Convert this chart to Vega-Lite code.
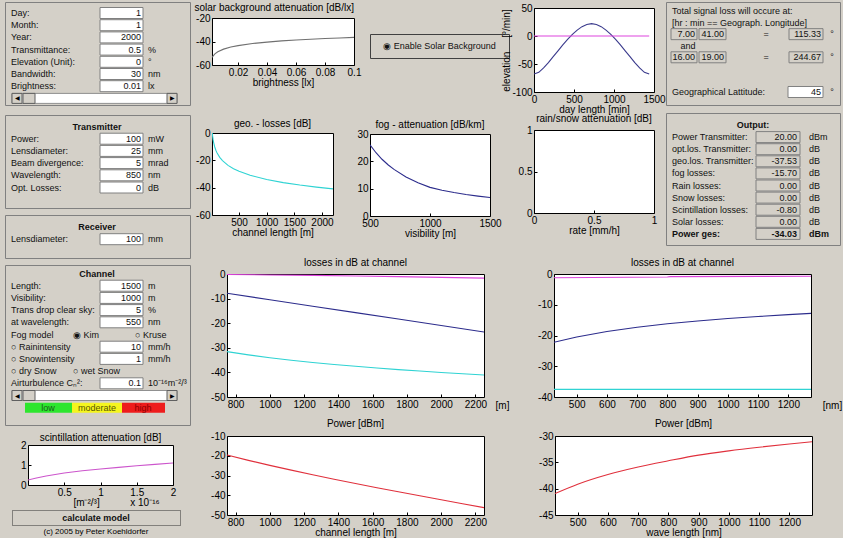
{
"$schema":"https://vega.github.io/schema/vega-lite/v6.json",
"background":"#d4d0c8",
"padding":{"left":4,"top":1,"right":0,"bottom":0},
"config":{
 "view":{"fill":"white","stroke":"black","strokeWidth":1},
 "numberFormat":".6~f",
 "locale":{"number":{"decimal":".","thousands":"","grouping":[3],"currency":["$",""],"minus":"-"}},
 "axis":{"domain":false,"grid":false,"labelFont":"Liberation Sans","labelFontSize":10,"labelColor":"black","labelFlush":false,"labelOverlap":false,"tickColor":"black","tickSize":-3,"labelPadding":5,"titleFont":"Liberation Sans","titleFontSize":10,"titleFontWeight":"normal","titleColor":"black","titlePadding":0},
 "title":{"font":"Liberation Sans","fontSize":10,"fontWeight":"normal","color":"black","offset":5,"frame":"group"},
 "line":{"strokeWidth":1.1},
 "text":{"font":"Liberation Sans","fontSize":9,"color":"#111111","baseline":"middle"}
},
"datasets":{
 "panel":[
  {"p":"P1","kind":"field","row":1,"label":"Day:","value":"1","unit":"","mid":"","right":""},
  {"p":"P1","kind":"field","row":2,"label":"Month:","value":"1","unit":"","mid":"","right":""},
  {"p":"P1","kind":"field","row":3,"label":"Year:","value":"2000","unit":"","mid":"","right":""},
  {"p":"P1","kind":"field","row":4,"label":"Transmittance:","value":"0.5","unit":"%","mid":"","right":""},
  {"p":"P1","kind":"field","row":5,"label":"Elevation (Unit):","value":"0","unit":"°","mid":"","right":""},
  {"p":"P1","kind":"field","row":6,"label":"Bandwidth:","value":"30","unit":"nm","mid":"","right":""},
  {"p":"P1","kind":"field","row":7,"label":"Brightness:","value":"0.01","unit":"lx","mid":"","right":""},
  {"p":"P1","kind":"slider","row":8,"label":"","value":"","unit":"","mid":"","right":""},
  {"p":"P2","kind":"title","row":0,"label":"Transmitter","value":"","unit":"","mid":"","right":""},
  {"p":"P2","kind":"field","row":1,"label":"Power:","value":"100","unit":"mW","mid":"","right":""},
  {"p":"P2","kind":"field","row":2,"label":"Lensdiameter:","value":"25","unit":"mm","mid":"","right":""},
  {"p":"P2","kind":"field","row":3,"label":"Beam divergence:","value":"5","unit":"mrad","mid":"","right":""},
  {"p":"P2","kind":"field","row":4,"label":"Wavelength:","value":"850","unit":"nm","mid":"","right":""},
  {"p":"P2","kind":"field","row":5,"label":"Opt. Losses:","value":"0","unit":"dB","mid":"","right":""},
  {"p":"P3","kind":"title","row":0,"label":"Receiver","value":"","unit":"","mid":"","right":""},
  {"p":"P3","kind":"field","row":1,"label":"Lensdiameter:","value":"100","unit":"mm","mid":"","right":""},
  {"p":"P4","kind":"title","row":0,"label":"Channel","value":"","unit":"","mid":"","right":""},
  {"p":"P4","kind":"field","row":1,"label":"Length:","value":"1500","unit":"m","mid":"","right":""},
  {"p":"P4","kind":"field","row":2,"label":"Visibility:","value":"1000","unit":"m","mid":"","right":""},
  {"p":"P4","kind":"field","row":3,"label":"Trans drop clear sky:","value":"5","unit":"%","mid":"","right":""},
  {"p":"P4","kind":"field","row":4,"label":"at wavelength:","value":"550","unit":"nm","mid":"","right":""},
  {"p":"P4","kind":"field","row":5,"label":"Fog model","value":"","unit":"","mid":"◉ Kim","right":"○ Kruse"},
  {"p":"P4","kind":"field","row":6,"label":"○ Rainintensity","value":"10","unit":"mm/h","mid":"","right":""},
  {"p":"P4","kind":"field","row":7,"label":"○ Snowintensity","value":"1","unit":"mm/h","mid":"","right":""},
  {"p":"P4","kind":"field","row":8,"label":"○ dry Snow","value":"","unit":"","mid":"○ wet Snow","right":""},
  {"p":"P4","kind":"field","row":9,"label":"Airturbulence Cₙ²:","value":"0.1","unit":"10⁻¹⁶m⁻²/³","mid":"","right":""},
  {"p":"P4","kind":"slider","row":10,"label":"","value":"","unit":"","mid":"","right":""},
  {"p":"P4","kind":"scale","row":11,"label":"","value":"","unit":"","mid":"","right":""},
  {"p":"OUT","kind":"title","row":0,"label":"Output:","value":"","unit":"","mid":"","right":""},
  {"p":"OUT","kind":"field","row":1,"label":"Power Transmitter:","value":"20.00","unit":"dBm","mid":"","right":""},
  {"p":"OUT","kind":"field","row":2,"label":"opt.los. Transmitter:","value":"0.00","unit":"dB","mid":"","right":""},
  {"p":"OUT","kind":"field","row":3,"label":"geo.los. Transmitter:","value":"-37.53","unit":"dB","mid":"","right":""},
  {"p":"OUT","kind":"field","row":4,"label":"fog losses:","value":"-15.70","unit":"dB","mid":"","right":""},
  {"p":"OUT","kind":"field","row":5,"label":"Rain losses:","value":"0.00","unit":"dB","mid":"","right":""},
  {"p":"OUT","kind":"field","row":6,"label":"Snow losses:","value":"0.00","unit":"dB","mid":"","right":""},
  {"p":"OUT","kind":"field","row":7,"label":"Scintillation losses:","value":"-0.80","unit":"dB","mid":"","right":""},
  {"p":"OUT","kind":"field","row":8,"label":"Solar losses:","value":"0.00","unit":"dB","mid":"","right":""},
  {"p":"OUT","kind":"total","row":9,"label":"Power ges:","value":"-34.03","unit":"dBm","mid":"","right":""}
 ],
 "tr":[
  {"row":3,"h":"7.00","m":"41.00","lon":"115.33"},
  {"row":5,"h":"16.00","m":"19.00","lon":"244.67"}
 ]
},
"hconcat":[
 {"vconcat":[
  {"vconcat":[
   {"width":185,"height":103,"view":{"fill":null,"stroke":"#808080"},
    "encoding":{"y":{"field":"row","type":"quantitative","scale":{"domain":[0.098,8.541],"reverse":true,"nice":false,"zero":false,"padding":0},"axis":null},"x":{"datum":6,"type":"quantitative","scale":{"domain":[0,185],"nice":false,"zero":false,"padding":0},"axis":null}},
    "data":{"name":"panel"},"transform":[{"filter":"datum.p==='P1'"}],
    "layer":[
     {"transform":[{"filter":"datum.kind==='field'"}],"mark":{"type":"bar","orient":"horizontal","size":11,"fill":"white","stroke":"#808080"},"encoding":{"x":{"datum":95},"x2":{"datum":138}}},
     {"transform":[{"filter":"datum.kind==='field'"}],"mark":{"type":"text","align":"left"},"encoding":{"text":{"field":"label"}}},
     {"transform":[{"filter":"datum.kind==='field'"}],"mark":{"type":"text","align":"right"},"encoding":{"x":{"datum":136},"text":{"field":"value"}}},
     {"transform":[{"filter":"datum.kind==='field'"}],"mark":{"type":"text","align":"left"},"encoding":{"x":{"datum":143},"text":{"field":"unit"}}},
     {"transform":[{"filter":"datum.kind==='slider'"}],"layer":[
      {"mark":{"type":"bar","orient":"horizontal","size":10,"fill":"white","stroke":"#909090"},"encoding":{"x":{"datum":7},"x2":{"datum":172}}},
      {"mark":{"type":"bar","orient":"horizontal","size":10,"fill":"#d4d0c8","stroke":"#606060"},"encoding":{"x":{"datum":7},"x2":{"datum":17}}},
      {"mark":{"type":"bar","orient":"horizontal","size":10,"fill":"#d4d0c8","stroke":"#606060"},"encoding":{"x":{"datum":18},"x2":{"datum":30}}},
      {"mark":{"type":"bar","orient":"horizontal","size":10,"fill":"#d4d0c8","stroke":"#606060"},"encoding":{"x":{"datum":162},"x2":{"datum":172}}},
      {"mark":{"type":"text","fontSize":6,"color":"black"},"encoding":{"x":{"datum":12},"text":{"value":"◀"}}},
      {"mark":{"type":"text","fontSize":6,"color":"black"},"encoding":{"x":{"datum":167},"text":{"value":"▶"}}}
     ]}
    ]},
   {"vconcat":[
    {"width":185,"height":93,"view":{"fill":null,"stroke":"#808080"},
     "encoding":{"y":{"field":"row","type":"quantitative","scale":{"domain":[-0.943,6.68],"reverse":true,"nice":false,"zero":false,"padding":0},"axis":null},"x":{"datum":6,"type":"quantitative","scale":{"domain":[0,185],"nice":false,"zero":false,"padding":0},"axis":null}},
     "data":{"name":"panel"},"transform":[{"filter":"datum.p==='P2'"}],
     "layer":[
      {"transform":[{"filter":"datum.kind==='field'"}],"mark":{"type":"bar","orient":"horizontal","size":11,"fill":"white","stroke":"#808080"},"encoding":{"x":{"datum":95},"x2":{"datum":138}}},
      {"transform":[{"filter":"datum.kind==='field'"}],"mark":{"type":"text","align":"left"},"encoding":{"text":{"field":"label"}}},
      {"transform":[{"filter":"datum.kind==='field'"}],"mark":{"type":"text","align":"right"},"encoding":{"x":{"datum":136},"text":{"field":"value"}}},
      {"transform":[{"filter":"datum.kind==='field'"}],"mark":{"type":"text","align":"left"},"encoding":{"x":{"datum":143},"text":{"field":"unit"}}},
      {"transform":[{"filter":"datum.kind==='title'"}],"mark":{"type":"text","fontWeight":"bold"},"encoding":{"x":{"datum":92},"text":{"field":"label"}}}
     ]},
    {"width":185,"height":43,"view":{"fill":null,"stroke":"#808080"},
     "encoding":{"y":{"field":"row","type":"quantitative","scale":{"domain":[-0.984,2.541],"reverse":true,"nice":false,"zero":false,"padding":0},"axis":null},"x":{"datum":6,"type":"quantitative","scale":{"domain":[0,185],"nice":false,"zero":false,"padding":0},"axis":null}},
     "data":{"name":"panel"},"transform":[{"filter":"datum.p==='P3'"}],
     "layer":[
      {"transform":[{"filter":"datum.kind==='field'"}],"mark":{"type":"bar","orient":"horizontal","size":11,"fill":"white","stroke":"#808080"},"encoding":{"x":{"datum":95},"x2":{"datum":138}}},
      {"transform":[{"filter":"datum.kind==='field'"}],"mark":{"type":"text","align":"left"},"encoding":{"text":{"field":"label"}}},
      {"transform":[{"filter":"datum.kind==='field'"}],"mark":{"type":"text","align":"right"},"encoding":{"x":{"datum":136},"text":{"field":"value"}}},
      {"transform":[{"filter":"datum.kind==='field'"}],"mark":{"type":"text","align":"left"},"encoding":{"x":{"datum":143},"text":{"field":"unit"}}},
      {"transform":[{"filter":"datum.kind==='title'"}],"mark":{"type":"text","fontWeight":"bold"},"encoding":{"x":{"datum":92},"text":{"field":"label"}}}
     ]},
    {"width":185,"height":160,"view":{"fill":null,"stroke":"#808080"},
     "encoding":{"y":{"field":"row","type":"quantitative","scale":{"domain":[-0.697,12.418],"reverse":true,"nice":false,"zero":false,"padding":0},"axis":null},"x":{"datum":6,"type":"quantitative","scale":{"domain":[0,185],"nice":false,"zero":false,"padding":0},"axis":null}},
     "data":{"name":"panel"},"transform":[{"filter":"datum.p==='P4'"}],
     "layer":[
      {"transform":[{"filter":"datum.kind==='field' && datum.value!==''"}],"mark":{"type":"bar","orient":"horizontal","size":11,"fill":"white","stroke":"#808080"},"encoding":{"x":{"datum":95},"x2":{"datum":138}}},
      {"transform":[{"filter":"datum.kind==='field'"}],"mark":{"type":"text","align":"left"},"encoding":{"text":{"field":"label"}}},
      {"transform":[{"filter":"datum.kind==='field'"}],"mark":{"type":"text","align":"right"},"encoding":{"x":{"datum":136},"text":{"field":"value"}}},
      {"transform":[{"filter":"datum.kind==='field'"}],"mark":{"type":"text","align":"left"},"encoding":{"x":{"datum":143},"text":{"field":"unit"}}},
      {"transform":[{"filter":"datum.kind==='field'"}],"mark":{"type":"text","align":"left"},"encoding":{"x":{"datum":68},"text":{"field":"mid"}}},
      {"transform":[{"filter":"datum.kind==='field'"}],"mark":{"type":"text","align":"left"},"encoding":{"x":{"datum":130},"text":{"field":"right"}}},
      {"transform":[{"filter":"datum.kind==='title'"}],"mark":{"type":"text","fontWeight":"bold"},"encoding":{"x":{"datum":92},"text":{"field":"label"}}},
      {"transform":[{"filter":"datum.kind==='slider'"}],"layer":[
       {"mark":{"type":"bar","orient":"horizontal","size":10,"fill":"white","stroke":"#909090"},"encoding":{"x":{"datum":7},"x2":{"datum":172}}},
       {"mark":{"type":"bar","orient":"horizontal","size":10,"fill":"#d4d0c8","stroke":"#606060"},"encoding":{"x":{"datum":7},"x2":{"datum":17}}},
       {"mark":{"type":"bar","orient":"horizontal","size":10,"fill":"#d4d0c8","stroke":"#606060"},"encoding":{"x":{"datum":18},"x2":{"datum":30}}},
       {"mark":{"type":"bar","orient":"horizontal","size":10,"fill":"#d4d0c8","stroke":"#606060"},"encoding":{"x":{"datum":162},"x2":{"datum":172}}},
       {"mark":{"type":"text","fontSize":6,"color":"black"},"encoding":{"x":{"datum":12},"text":{"value":"◀"}}},
       {"mark":{"type":"text","fontSize":6,"color":"black"},"encoding":{"x":{"datum":167},"text":{"value":"▶"}}}
      ]},
      {"transform":[{"filter":"datum.kind==='scale'"}],"layer":[
       {"mark":{"type":"bar","orient":"horizontal","size":10,"fill":"#2ee62e"},"encoding":{"x":{"datum":20},"x2":{"datum":67}}},
       {"mark":{"type":"bar","orient":"horizontal","size":10,"fill":"#f5f51e"},"encoding":{"x":{"datum":67},"x2":{"datum":117}}},
       {"mark":{"type":"bar","orient":"horizontal","size":10,"fill":"#ee1c1c"},"encoding":{"x":{"datum":117},"x2":{"datum":160}}},
       {"mark":{"type":"text","color":"#1a5a1a"},"encoding":{"x":{"datum":43},"text":{"value":"low"}}},
       {"mark":{"type":"text","color":"#555500"},"encoding":{"x":{"datum":92},"text":{"value":"moderate"}}},
       {"mark":{"type":"text","color":"#8a0000"},"encoding":{"x":{"datum":138},"text":{"value":"high"}}}
      ]}
     ]}
   ],"spacing":5}
  ],"spacing":8},
  {"vconcat":[
   {"hconcat":[
    {"width":1,"height":1,"view":{"fill":null,"stroke":null},"data":{"values":[]},"mark":"text","encoding":{"text":{"value":""}}},
    {"width":145,"height":40,"title":{"text":"scintillation attenuation [dB]","offset":-3},
     "data":{"values":[{"c":0,"s":0.25},{"c":0.1,"s":0.34},{"c":0.25,"s":0.45},{"c":0.5,"s":0.6},{"c":0.75,"s":0.71},{"c":1,"s":0.8},{"c":1.25,"s":0.88},{"c":1.5,"s":0.96},{"c":1.75,"s":1.03},{"c":2,"s":1.1}]},
     "mark":{"type":"line","color":"#cc55cc","clip":true},
     "encoding":{"x":{"field":"c","type":"quantitative","scale":{"domain":[0,2],"nice":false,"zero":false},"axis":{"values":[0.5,1,1.5,2],"title":"[m⁻²/³]\u00a0\u00a0\u00a0\u00a0\u00a0\u00a0\u00a0\u00a0\u00a0\u00a0\u00a0x 10⁻¹⁶","titleX":88}},
      "y":{"field":"s","type":"quantitative","scale":{"domain":[0,2],"nice":false,"zero":false},"axis":{"values":[0,1,2],"title":null}}}}
   ],"spacing":13},
   {"hconcat":[
    {"width":1,"height":1,"view":{"fill":null,"stroke":null},"data":{"values":[]},"mark":"text","encoding":{"text":{"value":""}}},
    {"width":168,"height":15,"view":{"fill":"#d4d0c8","stroke":"#303030","strokeDash":[1,1]},
     "title":{"text":"(c) 2005 by Peter Koehldorfer","orient":"bottom","offset":3,"fontSize":8},
     "data":{"values":[{"t":"calculate model"}]},
     "mark":{"type":"text","fontWeight":"bold","fontSize":9},
     "encoding":{"text":{"field":"t"}}}
   ],"spacing":5}
  ],"spacing":1}
 ],"spacing":6},
 {"vconcat":[
  {"vconcat":[
   {"hconcat":[
    {"hconcat":[
     {"vconcat":[
      {"vconcat":[
       {"width":1,"height":1,"view":{"fill":null,"stroke":null},"data":{"values":[]},"mark":"text","encoding":{"text":{"value":""}}},
       {"width":142,"height":47,"title":{"text":"solar background attenuation [dB/lx]","anchor":"end","offset":0},
        "data":{"values":[{"b":0.002,"a":-53.5},{"b":0.004,"a":-50.5},{"b":0.006,"a":-48.7},{"b":0.01,"a":-46.5},{"b":0.015,"a":-44.7},{"b":0.02,"a":-43.5},{"b":0.03,"a":-41.7},{"b":0.04,"a":-40.5},{"b":0.05,"a":-39.5},{"b":0.06,"a":-38.7},{"b":0.07,"a":-38.05},{"b":0.08,"a":-37.5},{"b":0.09,"a":-36.96},{"b":0.1,"a":-36.5}]},
        "mark":{"type":"line","color":"#707070","clip":true},
        "encoding":{"x":{"field":"b","type":"quantitative","scale":{"domain":[0.002,0.1],"nice":false,"zero":false},"axis":{"values":[0.02,0.04,0.06,0.08,0.1],"title":"brightness [lx]"}},
         "y":{"field":"a","type":"quantitative","scale":{"domain":[-60,-20],"nice":false,"zero":false},"axis":{"values":[-60,-40,-20],"title":null}}}}
      ],"spacing":-1},
      {"width":121,"height":82,"title":{"text":"geo. - losses [dB]","offset":-1},
       "data":{"values":[{"L":15,"g":0},{"L":20,"g":-1.94},{"L":30,"g":-4.86},{"L":40,"g":-7.04},{"L":60,"g":-10.24},{"L":80,"g":-12.57},{"L":100,"g":-14.4},{"L":150,"g":-17.79},{"L":200,"g":-20.21},{"L":300,"g":-23.67},{"L":400,"g":-26.13},{"L":500,"g":-28.04},{"L":700,"g":-30.94},{"L":1000,"g":-34.02},{"L":1300,"g":-36.29},{"L":1600,"g":-38.09},{"L":1900,"g":-39.58},{"L":2200,"g":-40.85}]},
       "mark":{"type":"line","color":"#2fd3d3","clip":true},
       "encoding":{"x":{"field":"L","type":"quantitative","scale":{"domain":[10,2200],"nice":false,"zero":false},"axis":{"values":[500,1000,1500,2000],"title":"channel length [m]"}},
        "y":{"field":"g","type":"quantitative","scale":{"domain":[-60,0],"nice":false,"zero":false},"axis":{"values":[-60,-40,-20,0],"title":null}}}}
     ],"spacing":30},
     {"vconcat":[
      {"vconcat":[
       {"width":1,"height":1,"view":{"fill":null,"stroke":null},"data":{"values":[]},"mark":"text","encoding":{"text":{"value":""}}},
       {"width":139,"height":24,"view":{"fill":null,"stroke":"#404040"},
        "data":{"values":[{"t":"◉  Enable Solar Background"}]},
        "mark":{"type":"text","fontSize":9},
        "encoding":{"text":{"field":"t"}}}
      ],"spacing":30},
      {"width":120,"height":82,"title":{"text":"fog - attenuation [dB/km]","offset":-1},
       "data":{"values":[{"v":500,"f":26.02},{"v":550,"f":23.15},{"v":600,"f":20.76},{"v":650,"f":18.75},{"v":700,"f":17.04},{"v":800,"f":14.27},{"v":900,"f":12.15},{"v":1000,"f":10.47},{"v":1100,"f":9.45},{"v":1200,"f":8.6},{"v":1300,"f":7.88},{"v":1400,"f":7.27},{"v":1500,"f":6.74}]},
       "mark":{"type":"line","color":"#2c2c8c","clip":true},
       "encoding":{"x":{"field":"v","type":"quantitative","scale":{"domain":[500,1500],"nice":false,"zero":false},"axis":{"values":[500,1000,1500],"title":"visibility [m]"}},
        "y":{"field":"f","type":"quantitative","scale":{"domain":[0,30],"nice":false,"zero":false},"axis":{"values":[0,10,20,30],"title":null}}}}
     ],"spacing":60}
    ],"spacing":-6},
    {"hconcat":[
     {"vconcat":[
      {"vconcat":[
       {"width":1,"height":1,"view":{"fill":null,"stroke":null},"data":{"values":[]},"mark":"text","encoding":{"text":{"value":""}}},
       {"width":120,"height":84,
        "data":{"values":[{"t":0,"e":-68,"s":"sun"},{"t":60,"e":-64.8,"s":"sun"},{"t":120,"e":-57.1,"s":"sun"},{"t":180,"e":-47.4,"s":"sun"},{"t":240,"e":-37,"s":"sun"},{"t":300,"e":-26.4,"s":"sun"},{"t":360,"e":-16,"s":"sun"},{"t":420,"e":-6.2,"s":"sun"},{"t":480,"e":2.8,"s":"sun"},{"t":540,"e":10.6,"s":"sun"},{"t":600,"e":16.7,"s":"sun"},{"t":660,"e":20.6,"s":"sun"},{"t":720,"e":22,"s":"sun"},{"t":780,"e":20.6,"s":"sun"},{"t":840,"e":16.7,"s":"sun"},{"t":900,"e":10.6,"s":"sun"},{"t":960,"e":2.8,"s":"sun"},{"t":1020,"e":-6.2,"s":"sun"},{"t":1080,"e":-16,"s":"sun"},{"t":1140,"e":-26.4,"s":"sun"},{"t":1200,"e":-37,"s":"sun"},{"t":1260,"e":-47.4,"s":"sun"},{"t":1320,"e":-57.1,"s":"sun"},{"t":1380,"e":-64.8,"s":"sun"},{"t":1440,"e":-68,"s":"sun"},{"t":0,"e":0,"s":"horizon"},{"t":1440,"e":0,"s":"horizon"}]},
        "mark":{"type":"line","clip":true},
        "encoding":{"x":{"field":"t","type":"quantitative","scale":{"domain":[0,1500],"nice":false,"zero":false},"axis":{"values":[0,500,1000,1500],"title":"day length [min]"}},
         "y":{"field":"e","type":"quantitative","scale":{"domain":[-100,50],"nice":false,"zero":false},"axis":{"values":[-100,-50,0,50],"title":"elevation\u00a0\u00a0\u00a0\u00a0\u00a0[°/min]"}},
         "color":{"field":"s","type":"nominal","scale":{"domain":["scint","fog","geo","sun","horizon"],"range":["#dd44dd","#2c2c8c","#2fd3d3","#3a3a8c","#dd44dd"]},"legend":null}}}
      ],"spacing":-1},
      {"width":120,"height":83,"title":{"text":"rain/snow attenuation [dB]","offset":1},
       "data":{"values":[{"x":0,"y":0}]},
       "mark":{"type":"point","opacity":0},
       "encoding":{"x":{"field":"x","type":"quantitative","scale":{"domain":[0,1],"nice":false,"zero":false},"axis":{"values":[0,0.5,1],"title":"rate [mm/h]"}},
        "y":{"field":"y","type":"quantitative","scale":{"domain":[0,1],"nice":false,"zero":false},"axis":{"values":[0,0.5,1],"title":null}}}}
     ],"spacing":-2},
     {"vconcat":[
      {"width":174,"height":103,"view":{"fill":null,"stroke":"#808080"},
       "encoding":{"y":{"field":"row","type":"quantitative","scale":{"domain":[0.222,9.124],"reverse":true,"nice":false,"zero":false,"padding":0},"axis":null},"x":{"datum":6,"type":"quantitative","scale":{"domain":[0,174],"nice":false,"zero":false,"padding":0},"axis":null}},
       "layer":[
        {"data":{"values":[{"row":1,"t":"Total signal loss will occure at:"},{"row":2,"t":"[hr : min ==  Geograph. Longitude]"},{"row":8,"t":"Geographical Lattitude:"}]},"mark":{"type":"text","align":"left"},"encoding":{"text":{"field":"t"}}},
        {"data":{"values":[{"row":4,"t":"and"}]},"mark":{"type":"text"},"encoding":{"x":{"datum":22},"text":{"field":"t"}}},
        {"data":{"name":"tr"},"layer":[
         {"mark":{"type":"bar","orient":"horizontal","size":11,"fill":"#d4d0c8","stroke":"#808080"},"encoding":{"x":{"datum":5},"x2":{"datum":31}}},
         {"mark":{"type":"bar","orient":"horizontal","size":11,"fill":"#d4d0c8","stroke":"#808080"},"encoding":{"x":{"datum":33},"x2":{"datum":60}}},
         {"mark":{"type":"bar","orient":"horizontal","size":11,"fill":"#d4d0c8","stroke":"#808080"},"encoding":{"x":{"datum":123},"x2":{"datum":157}}},
         {"mark":{"type":"text","align":"right"},"encoding":{"x":{"datum":29},"text":{"field":"h"}}},
         {"mark":{"type":"text","align":"right"},"encoding":{"x":{"datum":58},"text":{"field":"m"}}},
         {"mark":{"type":"text","align":"right"},"encoding":{"x":{"datum":155},"text":{"field":"lon"}}},
         {"mark":{"type":"text"},"encoding":{"x":{"datum":100},"text":{"value":"="}}},
         {"mark":{"type":"text"},"encoding":{"x":{"datum":166},"text":{"value":"°"}}}
        ]},
        {"data":{"values":[{"row":8,"v":"45"}]},"layer":[
         {"mark":{"type":"bar","orient":"horizontal","size":11,"fill":"white","stroke":"#808080"},"encoding":{"x":{"datum":122},"x2":{"datum":157}}},
         {"mark":{"type":"text","align":"right"},"encoding":{"x":{"datum":155},"text":{"field":"v"}}},
         {"mark":{"type":"text"},"encoding":{"x":{"datum":166},"text":{"value":"°"}}}
        ]}
       ]},
      {"width":174,"height":132,"view":{"fill":null,"stroke":"#808080"},
       "encoding":{"y":{"field":"row","type":"quantitative","scale":{"domain":[-0.992,9.917],"reverse":true,"nice":false,"zero":false,"padding":0},"axis":null},"x":{"datum":6,"type":"quantitative","scale":{"domain":[0,174],"nice":false,"zero":false,"padding":0},"axis":null}},
       "data":{"name":"panel"},"transform":[{"filter":"datum.p==='OUT'"}],
       "layer":[
        {"transform":[{"filter":"datum.kind==='field' || datum.kind==='total'"}],"mark":{"type":"bar","orient":"horizontal","size":11,"fill":"#d4d0c8","stroke":"#808080"},"encoding":{"x":{"datum":90},"x2":{"datum":134}}},
        {"transform":[{"filter":"datum.kind==='field'"}],"mark":{"type":"text","align":"left"},"encoding":{"text":{"field":"label"}}},
        {"transform":[{"filter":"datum.kind==='field'"}],"mark":{"type":"text","align":"right"},"encoding":{"x":{"datum":131},"text":{"field":"value"}}},
        {"transform":[{"filter":"datum.kind==='field'"}],"mark":{"type":"text","align":"left"},"encoding":{"x":{"datum":143},"text":{"field":"unit"}}},
        {"transform":[{"filter":"datum.kind==='total'"}],"mark":{"type":"text","align":"left","fontWeight":"bold"},"encoding":{"text":{"field":"label"}}},
        {"transform":[{"filter":"datum.kind==='total'"}],"mark":{"type":"text","align":"right","fontWeight":"bold"},"encoding":{"x":{"datum":131},"text":{"field":"value"}}},
        {"transform":[{"filter":"datum.kind==='total'"}],"mark":{"type":"text","align":"left","fontWeight":"bold"},"encoding":{"x":{"datum":143},"text":{"field":"unit"}}},
        {"transform":[{"filter":"datum.kind==='title'"}],"mark":{"type":"text","fontWeight":"bold"},"encoding":{"x":{"datum":87},"text":{"field":"label"}}}
       ]}
     ],"spacing":6}
    ],"spacing":-1}
   ],"spacing":-9},
   {"hconcat":[
    {"width":1,"height":1,"view":{"fill":null,"stroke":null},"data":{"values":[]},"mark":"text","encoding":{"text":{"value":""}}},
    {"hconcat":[
     {"width":257,"height":123,"title":{"text":"losses in dB at channel","offset":1},
      "data":{"values":[
       {"L":750,"v":-0.23,"s":"scint"},{"L":1000,"v":-0.38,"s":"scint"},{"L":1250,"v":-0.57,"s":"scint"},{"L":1500,"v":-0.8,"s":"scint"},{"L":1750,"v":-1.06,"s":"scint"},{"L":2000,"v":-1.36,"s":"scint"},{"L":2250,"v":-1.68,"s":"scint"},
       {"L":750,"v":-7.85,"s":"fog"},{"L":1000,"v":-10.47,"s":"fog"},{"L":1250,"v":-13.09,"s":"fog"},{"L":1500,"v":-15.7,"s":"fog"},{"L":1750,"v":-18.32,"s":"fog"},{"L":2000,"v":-20.94,"s":"fog"},{"L":2250,"v":-23.56,"s":"fog"},
       {"L":750,"v":-31.54,"s":"geo"},{"L":875,"v":-32.87,"s":"geo"},{"L":1000,"v":-34.02,"s":"geo"},{"L":1125,"v":-35.04,"s":"geo"},{"L":1250,"v":-35.95,"s":"geo"},{"L":1375,"v":-36.78,"s":"geo"},{"L":1500,"v":-37.53,"s":"geo"},{"L":1625,"v":-38.22,"s":"geo"},{"L":1750,"v":-38.86,"s":"geo"},{"L":1875,"v":-39.46,"s":"geo"},{"L":2000,"v":-40.02,"s":"geo"},{"L":2125,"v":-40.55,"s":"geo"},{"L":2250,"v":-41.04,"s":"geo"}]},
      "mark":{"type":"line","clip":true},
      "encoding":{"x":{"field":"L","type":"quantitative","scale":{"domain":[750,2250],"nice":false,"zero":false},"axis":{"values":[800,1000,1200,1400,1600,1800,2000,2200],"title":"[m]","titleX":275,"titleY":3,"titleBaseline":"top"}},
       "y":{"field":"v","type":"quantitative","scale":{"domain":[-50,0],"nice":false,"zero":false},"axis":{"values":[0,-10,-20,-30,-40,-50],"title":null}},
       "color":{"field":"s","type":"nominal","scale":{"domain":["scint","fog","geo","sun","horizon"],"range":["#dd44dd","#2c2c8c","#2fd3d3","#3a3a8c","#dd44dd"]},"legend":null}}},
     {"width":257,"height":123,"title":{"text":"losses in dB at channel","offset":1},
      "data":{"values":[
       {"w":425,"v":-1.2,"s":"scint"},{"w":800,"v":-1.0,"s":"scint"},{"w":810,"v":-0.85,"s":"scint"},{"w":1275,"v":-0.75,"s":"scint"},
       {"w":425,"v":-22.2,"s":"fog"},{"w":500,"v":-20.47,"s":"fog"},{"w":600,"v":-18.68,"s":"fog"},{"w":700,"v":-17.3,"s":"fog"},{"w":800,"v":-16.18,"s":"fog"},{"w":900,"v":-15.26,"s":"fog"},{"w":1000,"v":-14.47,"s":"fog"},{"w":1100,"v":-13.8,"s":"fog"},{"w":1200,"v":-13.21,"s":"fog"},{"w":1275,"v":-12.82,"s":"fog"},
       {"w":425,"v":-37.53,"s":"geo"},{"w":1275,"v":-37.53,"s":"geo"}]},
      "mark":{"type":"line","clip":true},
      "encoding":{"x":{"field":"w","type":"quantitative","scale":{"domain":[425,1275],"nice":false,"zero":false},"axis":{"values":[500,600,700,800,900,1000,1100,1200],"title":"[nm]","titleX":278,"titleY":3,"titleBaseline":"top"}},
       "y":{"field":"v","type":"quantitative","scale":{"domain":[-40,0],"nice":false,"zero":false},"axis":{"values":[0,-10,-20,-30,-40],"title":null}},
       "color":{"field":"s","type":"nominal","scale":{"domain":["scint","fog","geo","sun","horizon"],"range":["#dd44dd","#2c2c8c","#2fd3d3","#3a3a8c","#dd44dd"]},"legend":null}}}
    ],"spacing":27}
   ],"spacing":-3}
  ],"spacing":11},
  {"hconcat":[
   {"width":1,"height":1,"view":{"fill":null,"stroke":null},"data":{"values":[]},"mark":"text","encoding":{"text":{"value":""}}},
   {"hconcat":[
    {"width":257,"height":79,"title":{"text":"Power [dBm]","offset":2},
     "data":{"values":[{"L":750,"p":-19.62},{"L":875,"p":-22.33},{"L":1000,"p":-24.87},{"L":1125,"p":-27.29},{"L":1250,"p":-29.61},{"L":1375,"p":-31.86},{"L":1500,"p":-34.03},{"L":1625,"p":-36.16},{"L":1750,"p":-38.24},{"L":1875,"p":-40.29},{"L":2000,"p":-42.32},{"L":2125,"p":-44.32},{"L":2250,"p":-46.28}]},
     "mark":{"type":"line","color":"#e0303c","clip":true},
     "encoding":{"x":{"field":"L","type":"quantitative","scale":{"domain":[750,2250],"nice":false,"zero":false},"axis":{"values":[800,1000,1200,1400,1600,1800,2000,2200],"title":"channel length [m]"}},
      "y":{"field":"p","type":"quantitative","scale":{"domain":[-50,-10],"nice":false,"zero":false},"axis":{"values":[-50,-40,-30,-20,-10],"title":null}}}},
    {"width":257,"height":79,"title":{"text":"Power [dBm]","offset":2},
     "data":{"values":[{"w":425,"p":-40.93},{"w":500,"p":-39.15},{"w":600,"p":-37.31},{"w":700,"p":-35.88},{"w":800,"p":-34.71},{"w":900,"p":-33.63},{"w":1000,"p":-32.82},{"w":1100,"p":-32.13},{"w":1200,"p":-31.51},{"w":1275,"p":-31.1}]},
     "mark":{"type":"line","color":"#e0303c","clip":true,"interpolate":"monotone"},
     "encoding":{"x":{"field":"w","type":"quantitative","scale":{"domain":[425,1275],"nice":false,"zero":false},"axis":{"values":[500,600,700,800,900,1000,1100,1200],"title":"wave length [nm]"}},
      "y":{"field":"p","type":"quantitative","scale":{"domain":[-45,-30],"nice":false,"zero":false},"axis":{"values":[-45,-40,-35,-30],"title":null}}}}
   ],"spacing":50}
  ],"spacing":-3}
 ],"spacing":7}
],
"spacing":2
}
